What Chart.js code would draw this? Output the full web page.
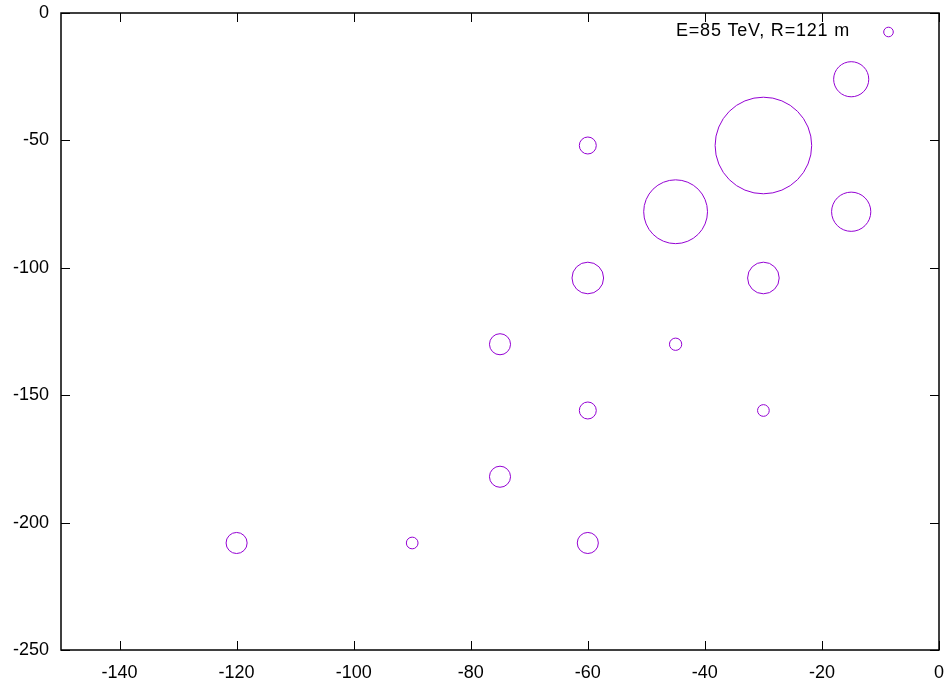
<!DOCTYPE html>
<html>
<head>
<meta charset="utf-8">
<title>E=85 TeV, R=121 m</title>
<script src="https://cdn.jsdelivr.net/npm/chart.js@4/dist/chart.umd.min.js"></script>
<style>
  html, body { margin: 0; padding: 0; background: #fff; }
  #wrap { width: 944px; height: 680px; }
</style>
</head>
<body>
<div id="wrap"><canvas id="plot" width="944" height="680"></canvas></div>
<script>
// ---- data: shower hits (x, y) and circle radius, radius in x-axis units ----
const seriesLabel = 'E=85 TeV, R=121 m';
const hitX = [-15, -30, -60, -45, -15, -60, -30, -75, -45, -60, -30, -75, -120, -90, -60];
const hitY = [-26, -52, -52, -78, -78, -104, -104, -130, -130, -156, -156, -182, -208, -208, -208];
const hitR = [3.0, 8.25, 1.45, 5.45, 3.35, 2.7, 2.7, 1.8, 1.05, 1.45, 1.0, 1.8, 1.8, 1.0, 1.8];

const xTicks = [-140, -120, -100, -80, -60, -40, -20, 0];
const yTicks = [0, -50, -100, -150, -200, -250];

const purple = '#9400d3';
const FONT = { family: '"Liberation Sans", Arial, sans-serif', size: 18 };

const points = hitX.map((x, i) => ({ x: x, y: hitY[i], s: hitR[i] }));

// bubble radius is in pixels; convert the x-unit radius once the scales are laid out
const unitRadiusPlugin = {
  id: 'unitRadius',
  beforeDatasetsUpdate(chart) {
    const sx = chart.scales.x;
    chart.data.datasets.forEach((ds, di) => {
      const ctrl = chart.getDatasetMeta(di).controller;
      ds.data.forEach((p, i) => {
        const parsed = ctrl.getParsed(i);
        if (parsed) parsed._custom = Math.abs(sx.getPixelForValue(p.s) - sx.getPixelForValue(0));
      });
    });
  }
};

// border box + inward mirrored ticks + key in the top-right corner
const framePlugin = {
  id: 'frame',
  afterDraw(chart) {
    const { ctx, chartArea: a, scales } = chart;
    const tl = 9;
    ctx.save();
    ctx.strokeStyle = '#000';
    ctx.lineWidth = 1;
    ctx.beginPath();
    xTicks.forEach(v => {
      const px = Math.round(scales.x.getPixelForValue(v)) + 0.5;
      ctx.moveTo(px, a.bottom); ctx.lineTo(px, a.bottom - tl);
      ctx.moveTo(px, a.top); ctx.lineTo(px, a.top + tl);
    });
    yTicks.forEach(v => {
      const py = Math.round(scales.y.getPixelForValue(v)) + 0.5;
      ctx.moveTo(a.left, py); ctx.lineTo(a.left + tl, py);
      ctx.moveTo(a.right, py); ctx.lineTo(a.right - tl, py);
    });
    ctx.stroke();
    ctx.lineWidth = 1.5;
    ctx.strokeRect(a.left, a.top, a.right - a.left, a.bottom - a.top);

    // key
    const ds = chart.data.datasets[0];
    ctx.font = FONT.size + 'px ' + FONT.family;
    ctx.letterSpacing = '0.8px';
    ctx.fillStyle = '#000';
    ctx.textAlign = 'right';
    ctx.textBaseline = 'middle';
    ctx.fillText(ds.label, a.right - 89, a.top + 18);
    ctx.strokeStyle = purple;
    ctx.lineWidth = 1;
    ctx.beginPath();
    ctx.arc(a.right - 50.5, a.top + 19, 4.8, 0, Math.PI * 2);
    ctx.stroke();
    ctx.restore();
  }
};

new Chart(document.getElementById('plot'), {
  type: 'bubble',
  data: {
    datasets: [{
      label: seriesLabel,
      data: points,
      borderColor: purple,
      backgroundColor: 'rgba(0,0,0,0)',
      borderWidth: 1
    }]
  },
  options: {
    responsive: false,
    animation: false,
    events: [],
    layout: { padding: { top: 13, right: 4, left: 0, bottom: 0 } },
    plugins: { legend: { display: false }, tooltip: { enabled: false } },
    scales: {
      x: {
        type: 'linear',
        min: -150,
        max: 0,
        grid: { display: false, drawTicks: false },
        border: { display: false },
        ticks: { color: '#000', font: FONT, padding: 12, maxRotation: 0 },
        afterBuildTicks: s => { s.ticks = xTicks.map(v => ({ value: v })); },
        afterFit: s => { s.height = 30; s.paddingLeft = 0; s.paddingRight = 0; }
      },
      y: {
        type: 'linear',
        min: -250,
        max: 0,
        grid: { display: false, drawTicks: false },
        border: { display: false },
        ticks: { color: '#000', font: FONT, padding: 12 },
        afterBuildTicks: s => { s.ticks = yTicks.map(v => ({ value: v })); },
        afterFit: s => { s.width = 61; s.paddingTop = 0; s.paddingBottom = 0; }
      }
    }
  },
  plugins: [unitRadiusPlugin, framePlugin]
});
</script>
</body>
</html>
